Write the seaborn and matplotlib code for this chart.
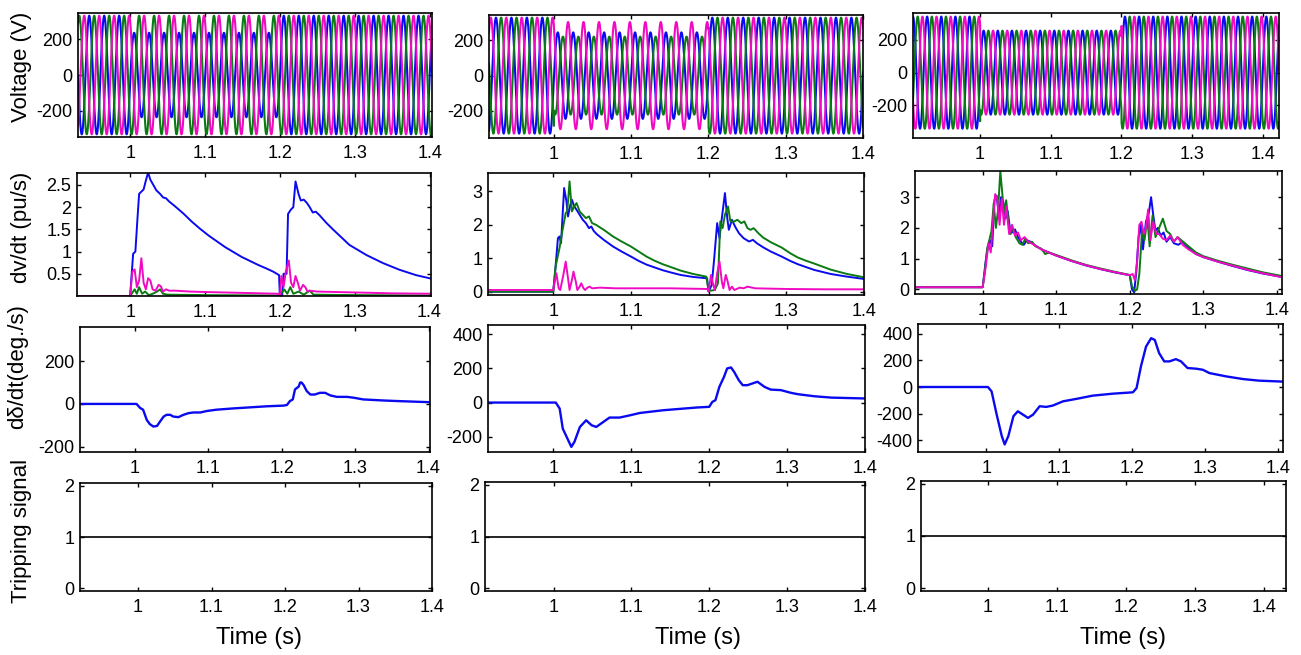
import numpy as np
import matplotlib
matplotlib.use("Agg")
import matplotlib.pyplot as plt
from matplotlib.ticker import FuncFormatter
import seaborn as sns

sns.set_theme(style="ticks", rc={
    "axes.edgecolor": "black",
    "axes.linewidth": 1.2,
    "axes.labelcolor": "black",
    "text.color": "black",
    "xtick.direction": "in",
    "ytick.direction": "in",
    "xtick.top": True,
    "ytick.right": True,
    "xtick.color": "black",
    "ytick.color": "black",
    "xtick.major.size": 3,
    "ytick.major.size": 3,
    "xtick.major.width": 1.0,
    "ytick.major.width": 1.0,
})
plt.rcParams["font.family"] = ["Liberation Sans", "DejaVu Sans"]

BLUE = "#0a0af0"
GREEN = "#0b7a12"
MAGENTA = "#f00ac2"

# ---- Voltage: 50 Hz three phase, peak amplitude before / during / after the event (V)
freq = 50
event_start, event_end = 1.0, 1.2
phase_deg = [0, -120, 120]            # blue, green, magenta
amp_col1 = {"blue": [330, 235, 330], "green": [330, 330, 330], "magenta": [330, 330, 330]}
amp_col2 = {"blue": [330, 246, 330], "green": [330, 222, 330], "magenta": [330, 305, 330]}
amp_col3 = {"blue": [343, 257, 343], "green": [343, 257, 343], "magenta": [343, 257, 343]}

# ---- dv/dt (pu/s)
dv1_blue_t = [0.92, 1.0, 1.004, 1.007, 1.010, 1.012, 1.015, 1.018, 1.021, 1.024, 1.027, 1.031, 1.035, 1.040,
              1.044, 1.048, 1.052, 1.060, 1.071, 1.082, 1.093, 1.105, 1.116, 1.127, 1.138, 1.149, 1.160, 1.171,
              1.182, 1.191, 1.199, 1.200, 1.203, 1.205, 1.209, 1.211, 1.215, 1.218, 1.221, 1.225, 1.228, 1.232,
              1.236, 1.240, 1.244, 1.248, 1.253, 1.262, 1.271, 1.293, 1.316, 1.338, 1.360, 1.382, 1.405]
dv1_blue = [0, 0, 0.95, 1.0, 1.8, 2.3, 2.35, 2.4, 2.6, 2.78, 2.62, 2.5, 2.38, 2.3,
            2.22, 2.2, 2.13, 2.02, 1.86, 1.68, 1.52, 1.36, 1.23, 1.1, 0.99, 0.88, 0.79, 0.7,
            0.62, 0.55, 0.47, 0.0, 0.0, 0.5, 0.5, 1.85, 1.95, 2.0, 2.58, 2.3, 2.15, 2.17,
            2.1, 2.0, 1.88, 1.9, 1.82, 1.65, 1.5, 1.15, 0.92, 0.74, 0.59, 0.47, 0.38]
dv1_mag_t = [0.92, 1.0, 1.003, 1.006, 1.009, 1.012, 1.015, 1.018, 1.021, 1.024, 1.027, 1.030, 1.034, 1.038,
             1.041, 1.044, 1.048, 1.052, 1.060, 1.080, 1.100, 1.150, 1.199, 1.200, 1.202, 1.205, 1.208, 1.212,
             1.215, 1.218, 1.221, 1.224, 1.227, 1.231, 1.234, 1.237, 1.240, 1.250, 1.300, 1.350, 1.405]
dv1_mag = [0, 0, 0.55, 0.6, 0.2, 0.35, 0.85, 0.3, 0.15, 0.4, 0.35, 0.15, 0.12, 0.25,
           0.22, 0.1, 0.15, 0.12, 0.12, 0.1, 0.09, 0.07, 0.05, 0.0, 0.45, 0.2, 0.55, 0.8,
           0.3, 0.2, 0.45, 0.3, 0.12, 0.25, 0.2, 0.1, 0.12, 0.1, 0.08, 0.06, 0.05]
dv1_grn_t = [0.92, 1.0, 1.006, 1.009, 1.012, 1.016, 1.020, 1.025, 1.030, 1.036, 1.040, 1.044, 1.050, 1.100,
             1.200, 1.206, 1.210, 1.214, 1.218, 1.225, 1.232, 1.240, 1.245, 1.300, 1.405]
dv1_grn = [0, 0, 0.15, 0.05, 0.2, 0.05, 0.1, 0.02, 0.05, 0.1, 0.15, 0.05, 0.03, 0.02,
           0.01, 0.15, 0.05, 0.2, 0.05, 0.1, 0.03, 0.12, 0.03, 0.02, 0.01]

dv2_blue_t = [0.91, 1.0, 1.003, 1.006, 1.008, 1.010, 1.014, 1.017, 1.019, 1.022, 1.024, 1.027, 1.030, 1.034,
              1.038, 1.042, 1.046, 1.049, 1.052, 1.056, 1.065, 1.077, 1.088, 1.100, 1.110, 1.120, 1.131, 1.141,
              1.152, 1.164, 1.180, 1.198, 1.200, 1.204, 1.207, 1.211, 1.214, 1.217, 1.221, 1.224, 1.226, 1.230,
              1.234, 1.239, 1.245, 1.252, 1.257, 1.262, 1.270, 1.280, 1.294, 1.305, 1.315, 1.326, 1.336, 1.357,
              1.378, 1.400]
dv2_blue = [0, 0, 0.75, 1.6, 1.65, 1.45, 3.1, 2.7, 2.25, 2.6, 2.75, 2.55, 2.45, 2.3,
            2.15, 2.05, 1.9, 1.95, 1.82, 1.72, 1.55, 1.35, 1.2, 1.05, 0.92, 0.81, 0.72, 0.64,
            0.57, 0.5, 0.44, 0.4, 0.0, 0.2, 0.95, 2.05, 1.6, 2.2, 2.95, 2.2, 1.85, 2.15,
            1.95, 1.75, 1.6, 1.5, 1.55, 1.45, 1.33, 1.2, 1.05, 0.92, 0.82, 0.73, 0.65, 0.53,
            0.45, 0.38]
dv2_grn_t = [0.91, 1.0, 1.003, 1.008, 1.012, 1.016, 1.018, 1.021, 1.024, 1.027, 1.030, 1.034, 1.038, 1.042,
             1.046, 1.050, 1.055, 1.065, 1.077, 1.088, 1.100, 1.110, 1.120, 1.130, 1.141, 1.152, 1.164, 1.180,
             1.197, 1.200, 1.208, 1.212, 1.215, 1.218, 1.221, 1.225, 1.228, 1.233, 1.237, 1.242, 1.246, 1.250,
             1.254, 1.258, 1.264, 1.270, 1.280, 1.294, 1.305, 1.315, 1.326, 1.336, 1.357, 1.378, 1.400]
dv2_grn = [0, 0, 0.75, 1.3, 1.85, 2.35, 2.4, 3.3, 2.4, 2.55, 2.65, 2.4, 2.3, 2.2,
           2.25, 2.05, 2.0, 1.85, 1.65, 1.5, 1.35, 1.2, 1.05, 0.93, 0.82, 0.73, 0.63, 0.53,
           0.45, 0.02, 0.05, 0.25, 2.1, 1.9, 2.3, 2.55, 2.1, 2.1, 2.15, 2.05, 2.1, 1.9,
           1.85, 1.9, 1.75, 1.62, 1.48, 1.32, 1.15, 1.02, 0.92, 0.84, 0.66, 0.53, 0.43]
dv2_mag_t = [0.91, 1.0, 1.002, 1.004, 1.007, 1.009, 1.013, 1.016, 1.019, 1.021, 1.024, 1.026, 1.029, 1.031,
             1.034, 1.036, 1.039, 1.041, 1.044, 1.047, 1.050, 1.060, 1.080, 1.100, 1.150, 1.199, 1.200, 1.203,
             1.206, 1.208, 1.211, 1.214, 1.217, 1.219, 1.222, 1.224, 1.227, 1.230, 1.233, 1.240, 1.245, 1.250,
             1.260, 1.300, 1.350, 1.400]
dv2_mag = [0.05, 0.05, 0.3, 0.55, 0.1, 0.05, 0.5, 0.9, 0.4, 0.05, 0.35, 0.6, 0.3, 0.05,
           0.15, 0.25, 0.1, 0.05, 0.12, 0.15, 0.1, 0.12, 0.1, 0.1, 0.1, 0.08, 0.0, 0.5,
           0.2, 0.05, 0.55, 0.9, 0.3, 0.1, 0.5, 0.35, 0.05, 0.15, 0.05, 0.12, 0.1, 0.15,
           0.1, 0.08, 0.07, 0.07]

dv3_blue_t = [0.90, 1.0, 1.004, 1.007, 1.010, 1.013, 1.016, 1.019, 1.022, 1.025, 1.028, 1.031, 1.034, 1.037,
              1.040, 1.044, 1.048, 1.052, 1.056, 1.060, 1.065, 1.070, 1.080, 1.090, 1.100, 1.120, 1.140, 1.160,
              1.180, 1.200, 1.203, 1.206, 1.209, 1.212, 1.215, 1.218, 1.222, 1.226, 1.229, 1.232, 1.235, 1.238,
              1.242, 1.246, 1.250, 1.255, 1.260, 1.266, 1.272, 1.280, 1.290, 1.300, 1.320, 1.340, 1.360, 1.380,
              1.410]
dv3_blue = [0.07, 0.07, 0.9, 1.4, 1.6, 1.4, 2.9, 3.05, 2.4, 3.0, 2.85, 2.3, 2.55, 2.0,
            1.85, 1.95, 1.7, 1.55, 1.45, 1.6, 1.55, 1.45, 1.3, 1.2, 1.1, 0.93, 0.78, 0.66,
            0.55, 0.46, 0.0, -0.1, 0.6, 1.7, 2.1, 1.3, 2.2, 2.5, 3.0, 2.4, 1.9, 2.0,
            1.75, 1.85, 1.55, 1.7, 1.5, 1.45, 1.55, 1.35, 1.15, 1.05, 0.9, 0.76, 0.63, 0.52,
            0.39]
dv3_grn_t = [0.90, 1.0, 1.003, 1.006, 1.009, 1.012, 1.015, 1.018, 1.021, 1.024, 1.026, 1.029, 1.032, 1.035,
             1.038, 1.041, 1.045, 1.050, 1.054, 1.058, 1.062, 1.067, 1.072, 1.080, 1.085, 1.090, 1.100, 1.120,
             1.140, 1.160, 1.180, 1.200, 1.203, 1.207, 1.210, 1.213, 1.217, 1.220, 1.224, 1.227, 1.231, 1.235,
             1.240, 1.245, 1.250, 1.255, 1.260, 1.265, 1.270, 1.280, 1.290, 1.300, 1.320, 1.340, 1.360, 1.380,
             1.410]
dv3_grn = [0.07, 0.07, 0.6, 1.3, 1.6, 1.9, 2.8, 2.0, 2.6, 3.85, 3.3, 2.5, 2.9, 2.2,
           1.8, 2.0, 1.7, 1.5, 1.45, 1.65, 1.5, 1.55, 1.4, 1.32, 1.15, 1.2, 1.12, 0.95,
           0.8, 0.68, 0.57, 0.47, 0.1, -0.05, 0.0, 0.5, 2.0, 1.6, 2.3, 1.4, 2.4, 1.7,
           2.0, 2.3, 1.9, 1.8, 1.55, 1.7, 1.6, 1.4, 1.2, 1.08, 0.93, 0.8, 0.68, 0.56,
           0.42]
dv3_mag_t = [0.90, 1.0, 1.004, 1.008, 1.011, 1.014, 1.017, 1.020, 1.023, 1.026, 1.029, 1.032, 1.036, 1.040,
             1.044, 1.048, 1.052, 1.057, 1.062, 1.070, 1.080, 1.090, 1.100, 1.120, 1.140, 1.160, 1.180, 1.200,
             1.204, 1.207, 1.210, 1.213, 1.216, 1.219, 1.222, 1.225, 1.228, 1.232, 1.236, 1.240, 1.245, 1.250,
             1.255, 1.260, 1.265, 1.272, 1.280, 1.290, 1.300, 1.320, 1.340, 1.360, 1.380, 1.410]
dv3_mag = [0.07, 0.07, 0.7, 1.5, 1.2, 2.2, 3.1, 2.9, 2.1, 2.95, 2.1, 2.7, 1.8, 2.1,
           1.75, 1.85, 1.6, 1.7, 1.55, 1.45, 1.3, 1.2, 1.1, 0.93, 0.79, 0.66, 0.56, 0.46,
           0.5, 0.3, 0.9, 2.1, 2.2, 1.8, 2.0, 2.6, 1.6, 2.2, 1.8, 1.8, 1.65, 1.6,
           1.75, 1.55, 1.7, 1.45, 1.3, 1.15, 1.05, 0.9, 0.77, 0.64, 0.53, 0.38]

# ---- d(delta)/dt (deg./s)
dd1_t = [0.92, 1.002, 1.007, 1.011, 1.016, 1.020, 1.025, 1.030, 1.034, 1.039, 1.043, 1.048, 1.052, 1.059,
         1.066, 1.073, 1.080, 1.089, 1.098, 1.111, 1.134, 1.157, 1.180, 1.202, 1.207, 1.211, 1.215, 1.218,
         1.223, 1.225, 1.227, 1.230, 1.234, 1.239, 1.245, 1.252, 1.259, 1.266, 1.275, 1.289, 1.298, 1.311,
         1.339, 1.361, 1.402]
dd1 = [0, 0, -19, -27, -75, -94, -106, -103, -83, -59, -51, -51, -59, -62,
       -51, -43, -40, -40, -33, -27, -21, -16, -11, -8, -5, 13, 21, 68,
       81, 100, 100, 87, 60, 44, 44, 52, 52, 40, 33, 33, 29, 21,
       16, 13, 8]
dd2_t = [0.91, 1.003, 1.008, 1.012, 1.016, 1.023, 1.027, 1.034, 1.042, 1.049, 1.055, 1.064, 1.072, 1.085,
         1.098, 1.111, 1.141, 1.184, 1.200, 1.204, 1.208, 1.213, 1.219, 1.223, 1.228, 1.232, 1.238, 1.243,
         1.249, 1.258, 1.262, 1.271, 1.279, 1.292, 1.305, 1.314, 1.335, 1.357, 1.400]
dd2 = [0, 0, -35, -153, -192, -260, -230, -143, -104, -133, -143, -114, -88, -88,
       -75, -61, -45, -29, -25, 4, 14, 92, 151, 200, 206, 180, 131, 102,
       102, 116, 122, 92, 76, 73, 57, 49, 37, 29, 24]
dd3_t = [0.90, 1.002, 1.007, 1.014, 1.021, 1.025, 1.030, 1.037, 1.043, 1.050, 1.057, 1.064, 1.073, 1.082,
         1.091, 1.105, 1.123, 1.146, 1.174, 1.201, 1.206, 1.212, 1.219, 1.226, 1.231, 1.237, 1.244, 1.251,
         1.260, 1.267, 1.276, 1.288, 1.297, 1.306, 1.329, 1.352, 1.374, 1.410]
dd3 = [0, 0, -33, -208, -370, -433, -370, -220, -183, -208, -233, -208, -145, -150,
       -140, -108, -90, -65, -50, -40, -8, 155, 305, 368, 355, 255, 193, 193,
       210, 193, 143, 138, 130, 105, 80, 60, 48, 40]

# ---- tripping signal
trip_t = [0.90, 1.45]
trip = [1, 1]

# ---------------- layout (pixel boxes: left, right, top, bottom) ----------------
W, H = 1301, 655
boxes = [
    [(78, 432, 13, 137), (489, 863, 15, 138), (913, 1279, 13, 138)],
    [(77, 431, 173, 296), (488, 864, 173, 295), (915, 1282, 171, 294)],
    [(80, 430, 327, 452), (488, 865, 325, 452), (918, 1283, 324, 452)],
    [(80, 432, 483, 591), (485, 865, 482, 591), (921, 1286, 481, 591)],
]
xlims = [
    [(0.93, 1.403), (0.916, 1.4), (0.905, 1.423)],
    [(0.929, 1.402), (0.916, 1.4), (0.908, 1.407)],
    [(0.925, 1.402), (0.916, 1.4), (0.906, 1.407)],
    [(0.921, 1.40), (0.912, 1.4), (0.903, 1.432)],
]
ylims = [
    [(-345, 345), (-355, 345), (-400, 365)],
    [(0, 2.77), (-0.1, 3.55), (-0.15, 3.85)],
    [(-225, 360), (-290, 455), (-490, 475)],
    [(-0.05, 2.05), (-0.05, 2.05), (-0.05, 2.05)],
]
yticks = [
    [[-200, 0, 200]] * 3,
    [[0.5, 1, 1.5, 2, 2.5], [0, 1, 2, 3], [0, 1, 2, 3]],
    [[-200, 0, 200], [-200, 0, 200, 400], [-400, -200, 0, 200, 400]],
    [[0, 1, 2]] * 3,
]
fmt = FuncFormatter(lambda v, p: f"{v:g}")

fig = plt.figure(figsize=(W / 100, H / 100), dpi=100)
axes = []
for r in range(4):
    row = []
    for c in range(3):
        l, rr, t, b = boxes[r][c]
        ax = fig.add_axes([l / W, 1 - b / H, (rr - l) / W, (b - t) / H])
        ax.set_xlim(*xlims[r][c])
        ax.set_ylim(*ylims[r][c])
        ax.set_xticks([1, 1.1, 1.2, 1.3, 1.4])
        ax.set_yticks(yticks[r][c])
        ax.xaxis.set_major_formatter(fmt)
        ax.yaxis.set_major_formatter(fmt)
        ax.tick_params(axis="both", labelsize=13, pad=4)
        ax.tick_params(axis="x", pad=6)
        row.append(ax)
    axes.append(row)

# Row 1: three phase voltages
t_v = np.arange(0.90, 1.435, 0.0002)
for c, amps in enumerate([amp_col1, amp_col2, amp_col3]):
    for (name, color), ph in zip([("blue", BLUE), ("green", GREEN), ("magenta", MAGENTA)], phase_deg):
        a = amps[name]
        env = np.where(t_v < event_start, a[0], np.where(t_v < event_end, a[1], a[2]))
        v = env * np.sin(2 * np.pi * freq * t_v + np.deg2rad(ph))
        sns.lineplot(x=t_v, y=v, ax=axes[0][c], color=color, linewidth=1.5,
                     estimator=None, sort=False, errorbar=None)

# Row 2: dv/dt
dv_sets = [
    [(dv1_blue_t, dv1_blue, BLUE), (dv1_grn_t, dv1_grn, GREEN), (dv1_mag_t, dv1_mag, MAGENTA)],
    [(dv2_blue_t, dv2_blue, BLUE), (dv2_grn_t, dv2_grn, GREEN), (dv2_mag_t, dv2_mag, MAGENTA)],
    [(dv3_blue_t, dv3_blue, BLUE), (dv3_grn_t, dv3_grn, GREEN), (dv3_mag_t, dv3_mag, MAGENTA)],
]
for c, sets in enumerate(dv_sets):
    for tt, vv, color in sets:
        sns.lineplot(x=tt, y=vv, ax=axes[1][c], color=color, linewidth=1.4,
                     estimator=None, sort=False, errorbar=None)

# Row 3: d(delta)/dt
for c, (tt, vv) in enumerate([(dd1_t, dd1), (dd2_t, dd2), (dd3_t, dd3)]):
    sns.lineplot(x=tt, y=vv, ax=axes[2][c], color=BLUE, linewidth=1.7,
                 estimator=None, sort=False, errorbar=None)

# Row 4: tripping signal
for c in range(3):
    sns.lineplot(x=trip_t, y=trip, ax=axes[3][c], color="black", linewidth=1.2,
                 estimator=None, sort=False, errorbar=None)

# labels
ylabels = ["Voltage (V)", "dv/dt (pu/s)", "dδ/dt(deg./s)", "Tripping signal"]
ylab_pos = [(22, 67), (22, 227), (18, 367), (22, 531)]
for r in range(4):
    ax = axes[r][0]
    l, rr, t, b = boxes[r][0]
    ax.set_ylabel(ylabels[r], fontsize=16, va="center", ha="center")
    px, py = ylab_pos[r]
    ax.yaxis.set_label_coords((px - l) / (rr - l), (b - py) / (b - t))

xlab_x = [259, 698, 1123]
for c in range(3):
    ax = axes[3][c]
    l, rr, t, b = boxes[3][c]
    ax.set_xlabel("Time (s)", fontsize=17, va="center", ha="center")
    ax.xaxis.set_label_coords((xlab_x[c] - l) / (rr - l), (b - 638) / (b - t))
for r in range(3):
    for c in range(3):
        axes[r][c].set_xlabel("")
for r in range(4):
    for c in range(1, 3):
        axes[r][c].set_ylabel("")

fig.savefig("out.png", dpi=100, facecolor="white")
